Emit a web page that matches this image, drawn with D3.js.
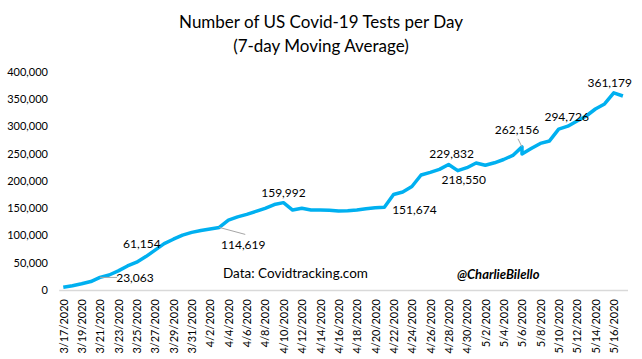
<!DOCTYPE html>
<html lang="en">

<head>
    <meta charset="UTF-8">
    <title>US Covid-19 Tests per Day</title>
    <script src="https://d3js.org/d3.v7.min.js"></script>
    <style>
        * {
            margin: 0;
            padding: 0;
        }

        body {
            background: #fff;
        }

        text {
            font-family: Lato, "Open Sans", sans-serif;
            fill: #000;
        }
    </style>
</head>

<body>
    <script>
        // dates on the date axis (5/6 appears twice in the source data)
        var dates = [
            "3/17/2020", "3/18/2020", "3/19/2020", "3/20/2020", "3/21/2020", "3/22/2020", "3/23/2020",
            "3/24/2020", "3/25/2020", "3/26/2020", "3/27/2020", "3/28/2020", "3/29/2020", "3/30/2020",
            "3/31/2020", "4/1/2020", "4/2/2020", "4/3/2020", "4/4/2020", "4/5/2020", "4/6/2020",
            "4/7/2020", "4/8/2020", "4/9/2020", "4/10/2020", "4/11/2020", "4/12/2020", "4/13/2020",
            "4/14/2020", "4/15/2020", "4/16/2020", "4/17/2020", "4/18/2020", "4/19/2020", "4/20/2020",
            "4/21/2020", "4/22/2020", "4/23/2020", "4/24/2020", "4/25/2020", "4/26/2020", "4/27/2020",
            "4/28/2020", "4/29/2020", "4/30/2020", "5/1/2020", "5/2/2020", "5/3/2020", "5/4/2020",
            "5/5/2020", "5/6/2020", "5/6/2020", "5/7/2020", "5/8/2020", "5/9/2020", "5/10/2020",
            "5/11/2020", "5/12/2020", "5/13/2020", "5/14/2020", "5/15/2020", "5/16/2020", "5/17/2020"
        ];

        // 7-day moving average of tests per day
        var tests = [
            5000, 7900, 11500, 15500, 23063, 27500, 35000,
            44000, 51000, 61154, 73000, 85000, 93000, 100500,
            105500, 109000, 111700, 114619, 128000, 134000, 138500,
            144000, 149600, 156500, 159992, 146500, 149600, 146500,
            146500, 146200, 144700, 145000, 146500, 149000, 150800,
            151674, 175000, 179500, 189500, 210600, 215500, 221000,
            229832, 218550, 224000, 232500, 228400, 233000, 239000,
            246500, 262156, 249000, 259000, 268500, 273000, 294726,
            300000, 309500, 318700, 331500, 340700, 361179, 355300
        ];

        var yTicks = [0, 50000, 100000, 150000, 200000, 250000, 300000, 350000, 400000];

        // indexes of the points that carry a data label
        var labelIdx = [4, 9, 17, 24, 35, 42, 43, 50, 55, 61];
        // label offsets from the point and whether a leader line is drawn
        var labelOffsets = [
            { dx: 35, dy: 0, leader: [17, 0] },
            { dx: -4, dy: -13 },
            { dx: 24, dy: 17, leader: [26, 7] },
            { dx: 0, dy: -10 },
            { dx: 30, dy: 2 },
            { dx: 3, dy: -11 },
            { dx: 6, dy: 9 },
            { dx: -5, dy: -17, leader: [-4, -8] },
            { dx: 8, dy: -13 },
            { dx: -4, dy: -10 }
        ];

        window.onload = function () {
            var width = 642, height = 359;
            var parse = d3.timeParse("%m/%d/%Y");
            var fmt = d3.format(",");

            var data = dates.map(function (d, i) {
                return { date: parse(d), value: tests[i] };
            });

            var first = data[0].date, last = data[data.length - 1].date;

            var x = d3.scaleTime()
                .domain([d3.timeHour.offset(first, -12), d3.timeHour.offset(last, 12)])
                .range([58.7, 627.5]);

            var y = d3.scaleLinear()
                .domain([0, 400000])
                .range([290, 71.6]);

            var svg = d3.select("body")
                .append("svg")
                .attr("width", width)
                .attr("height", height);

            // title
            var title = svg.append("text")
                .attr("text-anchor", "middle")
                .attr("font-size", "17px");
            title.append("tspan").attr("x", 321).attr("y", 28).text("Number of US Covid-19 Tests per Day");
            title.append("tspan").attr("x", 321).attr("y", 52).text("(7-day Moving Average)");

            // y axis labels
            var yAxis = d3.axisLeft(y)
                .tickValues(yTicks)
                .tickSize(0)
                .tickPadding(10)
                .tickFormat(fmt);
            var yg = svg.append("g")
                .attr("transform", "translate(58,0)")
                .call(yAxis);
            yg.select(".domain").remove();
            yg.selectAll("text")
                .attr("font-size", "11px")
                .attr("font-family", "Lato, sans-serif")
                .attr("fill", "#000");

            // x axis, every other day
            var tickDates = d3.timeDay.range(first, last, 2);
            var xAxis = d3.axisBottom(x)
                .tickValues(tickDates)
                .tickSize(0)
                .tickFormat(d3.timeFormat("%-m/%-d/%Y"));
            var xg = svg.append("g")
                .attr("transform", "translate(0,290)")
                .call(xAxis);
            xg.select(".domain")
                .attr("stroke", "#d9d9d9")
                .attr("stroke-width", 1.3);
            xg.selectAll("text")
                .attr("font-size", "11px")
                .attr("font-family", "Lato, sans-serif")
                .attr("fill", "#000")
                .attr("transform", "rotate(-90)")
                .attr("text-anchor", "end")
                .attr("x", -9)
                .attr("y", 0)
                .attr("dy", "0.35em");

            // line
            var line = d3.line()
                .x(function (d) { return x(d.date); })
                .y(function (d) { return y(d.value); });

            svg.append("path")
                .datum(data)
                .attr("fill", "none")
                .attr("stroke", "#00b0f0")
                .attr("stroke-width", 3.5)
                .attr("stroke-linejoin", "round")
                .attr("d", line);

            // data labels
            labelIdx.forEach(function (idx, k) {
                var d = data[idx];
                var o = labelOffsets[k];
                var px = x(d.date), py = y(d.value);
                if (o.leader) {
                    svg.append("line")
                        .attr("x1", px).attr("y1", py)
                        .attr("x2", px + o.leader[0]).attr("y2", py + o.leader[1])
                        .attr("stroke", "#a6a6a6")
                        .attr("stroke-width", 1);
                }
                svg.append("text")
                    .attr("x", px + o.dx)
                    .attr("y", py + o.dy)
                    .attr("text-anchor", "middle")
                    .attr("dominant-baseline", "central")
                    .attr("font-size", "12px")
                    .text(fmt(d.value));
            });

            // source and handle
            svg.append("text")
                .attr("x", 223)
                .attr("y", 278)
                .attr("font-size", "13.5px")
                .text("Data: Covidtracking.com");

            svg.append("text")
                .attr("x", 457)
                .attr("y", 279)
                .attr("font-size", "13px")
                .attr("font-style", "italic")
                .attr("font-weight", "bold")
                .attr("font-family", "'DejaVu Sans', sans-serif")
                .text("@CharlieBilello");
        };
    </script>
</body>

</html>
